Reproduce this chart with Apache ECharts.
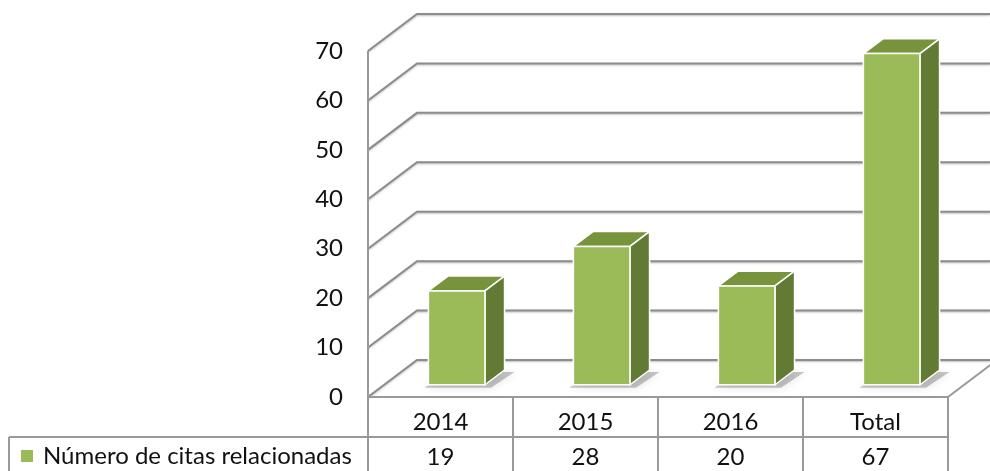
<!DOCTYPE html>
<html>
<head>
<meta charset="utf-8">
<script src="https://cdn.jsdelivr.net/npm/echarts@6/dist/echarts.min.js"></script>
<style>
html,body{margin:0;padding:0;background:#fff;}
#chart{width:990px;height:471px;}
</style>
</head>
<body>
<div id="chart"></div>
<script>
// ---- data ----
const categories = ['2014', '2015', '2016', 'Total'];
const values = [19, 28, 20, 67];
const yTicks = [0, 10, 20, 30, 40, 50, 60, 70];
const seriesName = 'Número de citas relacionadas';

// ---- style / layout constants ----
const FONT = 'Lato';
const FS = 24;
const DX = 49, DY = 37;          // back-wall offset
const Z0 = 0.33, Z1 = 0.73;      // bar depth (front / back)
const BAR_RATIO = 0.39;
const GRID_COLOR = '#8c8c8c';
const TABLE_COLOR = '#999999';
const LEGEND_LEFT = 9;
const ROW1_H = 40;

const chart = echarts.init(document.getElementById('chart'), null, {renderer: 'canvas'});

function gridRender(params, api) {
  const cs = params.coordSys;
  const v = api.value(1);
  const y = api.coord([0, v])[1];
  const x0 = cs.x;
  return {
    type: 'polyline',
    shape: {points: [[x0, y], [x0 + DX, y - DY], [api.getWidth(), y - DY]]},
    style: {stroke: GRID_COLOR, fill: null, lineWidth: 2, shadowColor: 'rgba(0,0,0,0.25)', shadowBlur: 2, shadowOffsetY: 1}
  };
}

function tableRender(params, api) {
  const cs = params.coordSys;
  const H = api.getHeight();
  const i = api.value(0);
  const v = api.value(1);
  const c = api.coord([i, 0]);
  const bw = api.size([1, 0])[0];
  const y0 = c[1];
  const xl = c[0] - bw / 2, xr = c[0] + bw / 2;
  const lineStyle = {stroke: TABLE_COLOR, lineWidth: 2, fill: null};
  const children = [];
  if (i > 0) {
    children.push({type: 'line', shape: {x1: xl, y1: y0, x2: xl, y2: H}, style: lineStyle});
  } else {
    children.push({type: 'line', shape: {x1: cs.x, y1: cs.y, x2: cs.x, y2: H}, style: lineStyle});
    children.push({type: 'line', shape: {x1: cs.x, y1: y0, x2: cs.x + cs.width, y2: y0}, style: lineStyle});
    children.push({type: 'line', shape: {x1: cs.x + cs.width, y1: y0, x2: cs.x + cs.width + DX, y2: y0 - DY}, style: lineStyle});
    children.push({type: 'line', shape: {x1: LEGEND_LEFT, y1: y0 + ROW1_H, x2: cs.x + cs.width, y2: y0 + ROW1_H}, style: lineStyle});
    children.push({type: 'line', shape: {x1: LEGEND_LEFT, y1: y0 + ROW1_H, x2: LEGEND_LEFT, y2: H}, style: lineStyle});
  }
  if (i === categories.length - 1) {
    children.push({type: 'line', shape: {x1: xr, y1: y0, x2: xr, y2: H}, style: lineStyle});
  }
  children.push({type: 'text', style: {text: categories[i], x: c[0], y: y0 + 25, align: 'center', verticalAlign: 'middle', fontSize: FS, fontFamily: FONT, fill: '#111'}});
  children.push({type: 'text', style: {text: String(v), x: c[0], y: y0 + 60, align: 'center', verticalAlign: 'middle', fontSize: FS, fontFamily: FONT, fill: '#111'}});
  return {type: 'group', children: children};
}

function barRender(params, api) {
  const i = api.value(0);
  const v = api.value(1);
  const c = api.coord([i, v]);
  const b = api.coord([i, 0]);
  const bw = api.size([1, 0])[0] * BAR_RATIO;
  const ox = Z0 * DX, oy = -Z0 * DY;
  const ddx = (Z1 - Z0) * DX, ddy = (Z1 - Z0) * DY;
  const xl = c[0] - bw / 2 + ox, xr = c[0] + bw / 2 + ox;
  const yt = c[1] + oy, yb = b[1] + oy;
  const edge = {stroke: '#ffffff', lineWidth: 1.5};
  return {
    type: 'group',
    children: [
      {type: 'polygon', shape: {points: [[xl - 4, yb + 3], [xr + 6, yb + 3], [xr + ddx + 10, yb - ddy + 2], [xl + ddx, yb - ddy + 2]]},
        style: {fill: 'rgba(0,0,0,0.22)', shadowColor: 'rgba(0,0,0,0.5)', shadowBlur: 8}},
      {type: 'polygon', shape: {points: [[xl, yt], [xr, yt], [xr + ddx, yt - ddy], [xl + ddx, yt - ddy]]},
        style: Object.assign({fill: '#77933C'}, edge)},
      {type: 'polygon', shape: {points: [[xr, yt], [xr + ddx, yt - ddy], [xr + ddx, yb - ddy], [xr, yb]]},
        style: Object.assign({fill: '#637A34'}, edge)},
      {type: 'rect', shape: {x: xl, y: yt, width: xr - xl, height: yb - yt},
        style: Object.assign({fill: '#9BBB59'}, edge)}
    ]
  };
}

const option = {
  animation: false,
  color: ['#9BBB59'],
  grid: {left: 368, right: 42, top: 51, bottom: 74, containLabel: false},
  xAxis: {
    type: 'category', data: categories,
    axisLine: {show: false}, axisTick: {show: false}, axisLabel: {show: false}, splitLine: {show: false}
  },
  yAxis: {
    type: 'value', min: 0, max: 70, interval: 10,
    axisLine: {show: false}, axisTick: {show: false}, splitLine: {show: false},
    axisLabel: {margin: 25, fontSize: FS, fontFamily: FONT, color: '#111'}
  },
  legend: {
    data: [seriesName], left: 21, top: 444, padding: 0,
    icon: 'rect', itemWidth: 12, itemHeight: 12, itemGap: 0,
    textStyle: {fontSize: FS, fontFamily: FONT, color: '#111', padding: [0, 0, 0, 5]}
  },
  series: [
    {type: 'custom', name: 'grid', renderItem: gridRender, data: yTicks.map(v => [0, v]), encode: {x: 0, y: 1}, silent: true, z: 1},
    {type: 'custom', name: 'table', renderItem: tableRender, data: categories.map((c, i) => [i, values[i]]), encode: {x: 0, y: 1}, silent: true, z: 2},
    {type: 'custom', name: seriesName, renderItem: barRender, itemStyle: {color: '#9BBB59'}, data: categories.map((c, i) => [i, values[i]]), encode: {x: 0, y: 1}, z: 3}
  ]
};
chart.setOption(option);
</script>
</body>
</html>
